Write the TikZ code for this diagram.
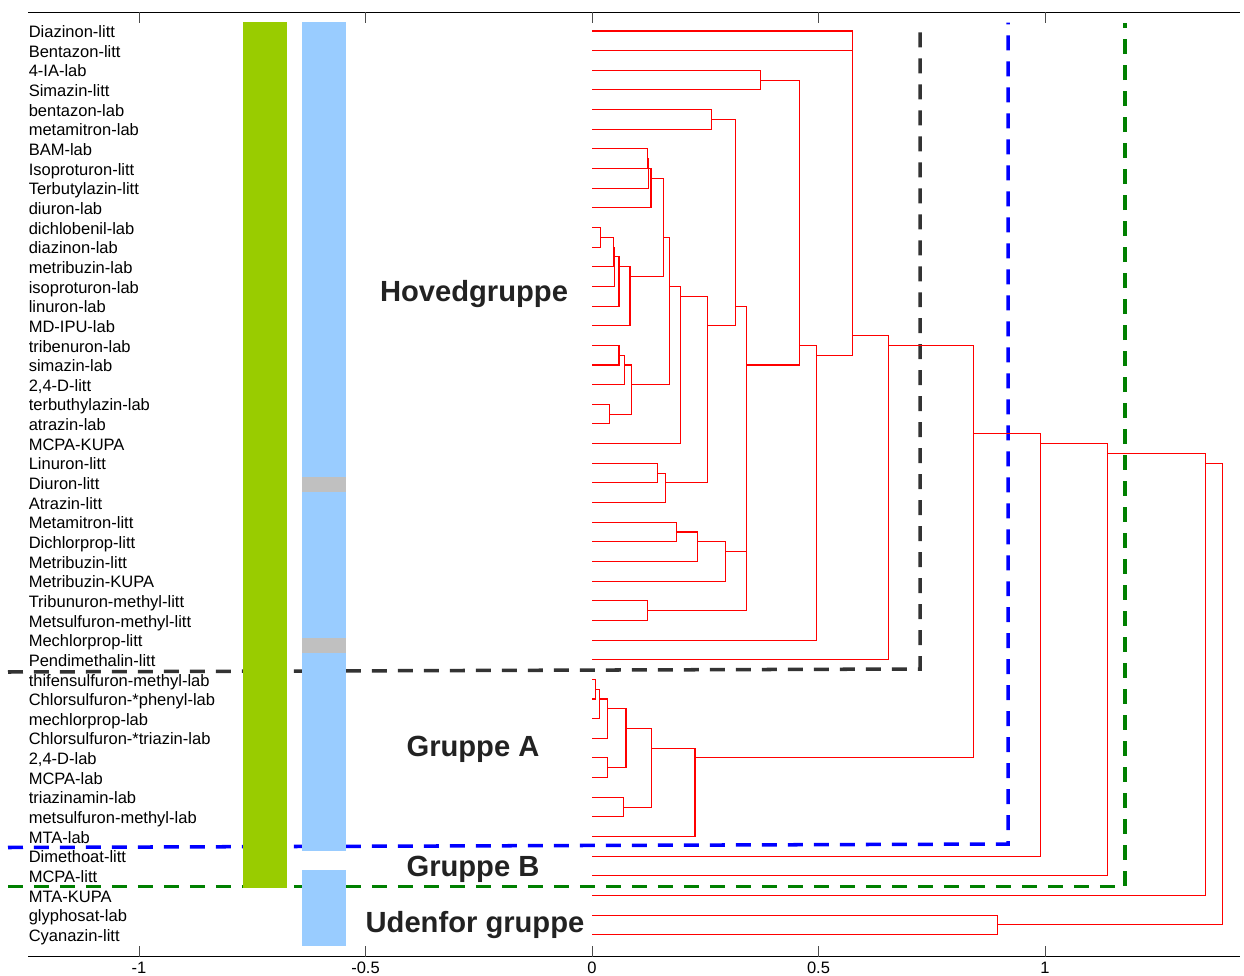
\documentclass[tikz,border=0pt]{standalone}
\usepackage{fontspec}
\setmainfont{Liberation Sans}
\definecolor{barGreen}{RGB}{153,204,0}
\definecolor{barBlue}{RGB}{153,204,255}
\definecolor{barGrey}{RGB}{192,192,192}
\definecolor{cutGrey}{RGB}{51,51,51}
\definecolor{cutGreen}{RGB}{0,128,0}
\definecolor{labelGrey}{RGB}{34,34,34}
\tikzstyle{leaf} = [anchor=base west,inner sep=0pt,font=\fontsize{9.4}{11}\selectfont]
\tikzstyle{link} = [draw=red,line width=0.6pt]
\tikzstyle{cutline} = [line width=2pt,dash pattern=on 0.3cm off 0.22cm]
\tikzstyle{group} = [anchor=base,inner sep=0pt,text=labelGrey,font=\fontsize{16.6}{19}\selectfont\bfseries]
\tikzstyle{ticklabel} = [anchor=base,inner sep=0pt,font=\fontsize{9.4}{11}\selectfont]
% node/height/y/child/child, y = mean of the leaves below
\def\links{c1/0.575/0.5/l1/l2, c2/0.3715/2.5/l3/l4,
    c3/0.2642/4.5/l5/l6, c4/0.1232/6.5/l7/l8, c5/0.1243/7/c4/l9,
    c6/0.1302/7.5/c5/l10, c7/0.0192/10.5/l11/l12, c8/0.047/11/c7/l13,
    c9/0.0501/11.5/c8/l14, c10/0.0596/12/c9/l15, c11/0.0839/12.5/c10/l16,
    c12/0.1574/10.5/c6/c11, c13/0.0596/16.5/l17/l18, c14/0.0713/17/c13/l19,
    c15/0.0382/19.5/l20/l21, c16/0.0876/18/c14/c15, c17/0.1706/13/c12/c16,
    c18/0.1958/13.5/c17/l22, c19/0.1442/22.5/l23/l24, c20/0.1618/23/c19/l25,
    c21/0.2545/15/c18/c20, c22/0.3163/14/c3/c21, c23/0.187/25.5/l26/l27,
    c24/0.2325/26/c23/l28, c25/0.2951/26.5/c24/l29, c26/0.341/16/c22/c25,
    c27/0.1221/29.5/l30/l31, c28/0.3415/17/c26/c27, c29/0.458/16/c2/c28,
    c30/0.496/16.5/c29/l32, c31/0.5755/15.5/c1/c30, c32/0.654/16/c31/l33,
    c33/0.0073/33.5/l34/l35, c34/0.0161/34/c33/l36, c35/0.0347/34.5/c34/l37,
    c36/0.0347/37.5/l38/l39, c37/0.0751/35.5/c35/c36, c38/0.0691/39.5/l40/l41,
    c39/0.1318/36.5/c37/c38, c40/0.2274/37/c39/l42, c41/0.8417/20.5/c32/c40,
    c42/0.9905/21/c41/l43, c43/1.1384/21.5/c42/l44, c44/1.3554/22/c43/l45,
    c45/0.8947/45.5/l46/l47, c46/1.3923/23/c44/c45}

\begin{document}
\begin{tikzpicture}[x=0.02cm,y=-0.02cm]
\useasboundingbox (0,0) rectangle (1244,976);

\path[cutline,draw=cutGrey] (8,672) -- (920,669) -- (920,22.7);
\path[cutline,draw=blue] (8,847.5) -- (1008,844) -- (1008,22.7);
\path[cutline,draw=cutGreen] (8,886.7) -- (1125,886.7) -- (1125,22.7);

\path[fill=barGreen] (242.7,22.3) rectangle (287.3,887.7);
\path[fill=barBlue] (301.7,22.3) rectangle (345.7,850.7);
\path[fill=barGrey] (301.7,476.7) rectangle (345.7,491.7);
\path[fill=barGrey] (301.7,638.3) rectangle (345.7,653.3);
\path[fill=barBlue] (301.7,870) rectangle (345.7,945.7);

\draw[line width=0.6pt] (28,12.3) -- (1240,12.3);
\draw[line width=0.6pt] (28,956.7) -- (1240,956.7);
\foreach \t/\lab [count=\k] in {-1/-1, -0.5/-0.5, 0/0, 0.5/0.5, 1/1}{
  \draw[draw=black!70] (592+453*\t,956.7) -- ++(0,-11);
  \draw[draw=black!70] (592+453*\t,12.3) -- ++(0,11);
  \node[ticklabel] (tick\k) at (592+453*\t,973.5) {\lab};
}

\node[group] (hoved) at (474,301.7) {Hovedgruppe};
\node[group] (grA) at (473,756) {Gruppe A};
\node[group] (grB) at (473,876) {Gruppe B};
\node[group] (udenfor) at (475,932) {Udenfor gruppe};

\begin{scope}[shift={(592,31)},x=9.06cm,y=-0.393cm]
\foreach \name [count=\i] in {Diazinon-litt, Bentazon-litt, 4-IA-lab, Simazin-litt,
    bentazon-lab, metamitron-lab, BAM-lab, Isoproturon-litt, Terbutylazin-litt,
    diuron-lab, dichlobenil-lab, diazinon-lab, metribuzin-lab, isoproturon-lab,
    linuron-lab, MD-IPU-lab, tribenuron-lab, simazin-lab, {2,4-D-litt},
    terbuthylazin-lab, atrazin-lab, MCPA-KUPA, Linuron-litt, Diuron-litt,
    Atrazin-litt, Metamitron-litt, Dichlorprop-litt, Metribuzin-litt,
    Metribuzin-KUPA, Tribunuron-methyl-litt, Metsulfuron-methyl-litt,
    Mechlorprop-litt, Pendimethalin-litt, thifensulfuron-methyl-lab,
    Chlorsulfuron-*phenyl-lab, mechlorprop-lab, Chlorsulfuron-*triazin-lab,
    {2,4-D-lab}, MCPA-lab, triazinamin-lab, metsulfuron-methyl-lab, MTA-lab,
    Dimethoat-litt, MCPA-litt, MTA-KUPA, glyphosat-lab, Cyanazin-litt}{
  \coordinate (l\i) at (0,\i-1);
  \node[leaf,yshift=-0.134cm] (name\i) at (-1.2444,\i-1) {\name};
}
\foreach \n/\h/\ym/\ca/\cb in \links{
  \coordinate (\n) at (\h,\ym);
}
\path[link] \foreach \n/\h/\ym/\ca/\cb in \links{ (\ca) -| (\n) |- (\cb) };
\end{scope}
\end{tikzpicture}
\end{document}
